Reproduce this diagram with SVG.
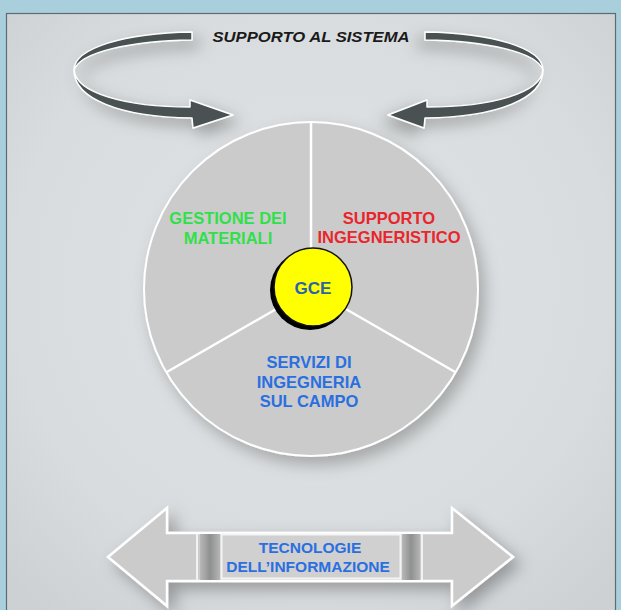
<svg xmlns="http://www.w3.org/2000/svg" width="621" height="610" viewBox="0 0 621 610">
<defs>
<style>
.t{font-family:"Liberation Sans",Arial,sans-serif;font-weight:bold;text-anchor:middle}
.rib{fill:#4a5152;stroke:#ffffff;stroke-width:1.5;stroke-linejoin:round}
.big{fill:#cbcbcb;stroke:#ffffff;stroke-width:2;stroke-linejoin:miter}
.div{stroke:#ffffff;stroke-width:2.5;fill:none}
</style>
<radialGradient id="panelG" cx="50%" cy="45%" r="70%">
<stop offset="0" stop-color="#e0e3e5"/>
<stop offset="0.7" stop-color="#d9dcde"/>
<stop offset="1" stop-color="#cdd1d4"/>
</radialGradient>
<linearGradient id="band" x1="0" y1="0" x2="1" y2="0">
<stop offset="0" stop-color="#b8b8b8"/>
<stop offset="0.5" stop-color="#8f9090"/>
<stop offset="1" stop-color="#b5b5b5"/>
</linearGradient>
<filter id="sh" x="-30%" y="-30%" width="160%" height="160%">
<feDropShadow dx="7" dy="7" stdDeviation="8" flood-color="#000" flood-opacity="0.3"/>
</filter>
<filter id="sh2" x="-20%" y="-20%" width="140%" height="140%">
<feDropShadow dx="6" dy="8" stdDeviation="8" flood-color="#000" flood-opacity="0.25"/>
</filter>
</defs>
<rect x="0" y="0" width="621" height="610" fill="#a9cfdc"/>
<rect x="6.5" y="13.5" width="609" height="600" fill="url(#panelG)" stroke="#5d6b72" stroke-width="1.2"/>

<g id="supporto-sistema">
<g id="loop-left" filter="url(#sh)">
<path class="rib" d="M192,32 C125,33 74,48 74,70 C80,52 130,41 192,40 Z"/>
<path class="rib" d="M74,70 C76,93 125,107 190,107 L190,100 L233,115 L193,128 L192,118 C118,117 74,98 74,70 Z"/>
</g>
<g id="loop-right" filter="url(#sh)" transform="translate(617,0) scale(-1,1)">
<path class="rib" d="M192,32 C125,33 74,48 74,70 C80,52 130,41 192,40 Z"/>
<path class="rib" d="M74,70 C76,93 125,107 190,107 L190,100 L229,115 L193,128 L192,118 C118,117 74,98 74,70 Z"/>
</g>
<text class="t" x="311" y="42" font-size="14.5" font-style="italic" fill="#1a1a1a" textLength="197" lengthAdjust="spacingAndGlyphs">SUPPORTO AL SISTEMA</text>
</g>

<g id="pie">
<circle class="big" cx="311" cy="289" r="167" filter="url(#sh2)"/>
<line class="div" x1="311" y1="289" x2="311" y2="122"/>
<line class="div" x1="311" y1="289" x2="166" y2="372.5"/>
<line class="div" x1="311" y1="289" x2="456" y2="372.5"/>
</g>

<g id="gestione-materiali">
<text class="t" x="228" y="224" font-size="16.5" fill="#30e04a">GESTIONE DEI</text>
<text class="t" x="228" y="244" font-size="16.5" fill="#30e04a">MATERIALI</text>
</g>
<g id="supporto-ingegneristico">
<text class="t" x="389" y="224" font-size="16.5" fill="#e8262c">SUPPORTO</text>
<text class="t" x="389" y="243" font-size="16.5" fill="#e8262c">INGEGNERISTICO</text>
</g>
<g id="servizi-ingegneria">
<text class="t" x="309" y="368" font-size="16.5" fill="#2a6fe0">SERVIZI DI</text>
<text class="t" x="309" y="388" font-size="16.5" fill="#2a6fe0">INGEGNERIA</text>
<text class="t" x="309" y="407" font-size="16.5" fill="#2a6fe0">SUL CAMPO</text>
</g>

<g id="gce">
<circle cx="310" cy="290" r="40" fill="#000"/>
<circle cx="313" cy="287" r="39" fill="#ffff00" stroke="#111" stroke-width="1.5"/>
<text class="t" x="313" y="294" font-size="17" fill="#2a62ad">GCE</text>
</g>

<g id="tecnologie-informazione">
<path d="M108,557 L167,508 L167,533 L452,533 L452,508 L513,557 L452,606 L452,581 L167,581 L167,606 Z" fill="#cbcbcb" stroke="#ffffff" stroke-width="2.5" stroke-linejoin="miter" filter="url(#sh)"/>
<line x1="197" y1="534" x2="197" y2="580" stroke="#f2f2f2" stroke-width="2"/>
<rect x="200" y="534" width="20" height="46" fill="url(#band)"/>
<rect x="402" y="534" width="18" height="46" fill="url(#band)"/>
<line x1="422" y1="534" x2="422" y2="580" stroke="#f2f2f2" stroke-width="2"/>
<rect x="221.5" y="534.5" width="179" height="44" fill="#d0d0d0" stroke="#f4f4f4" stroke-width="2"/>
<text class="t" x="310" y="553" font-size="15.5" fill="#2a6fe0">TECNOLOGIE</text>
<text class="t" x="308" y="572" font-size="15.5" fill="#2a6fe0">DELL’INFORMAZIONE</text>
</g>
</svg>
